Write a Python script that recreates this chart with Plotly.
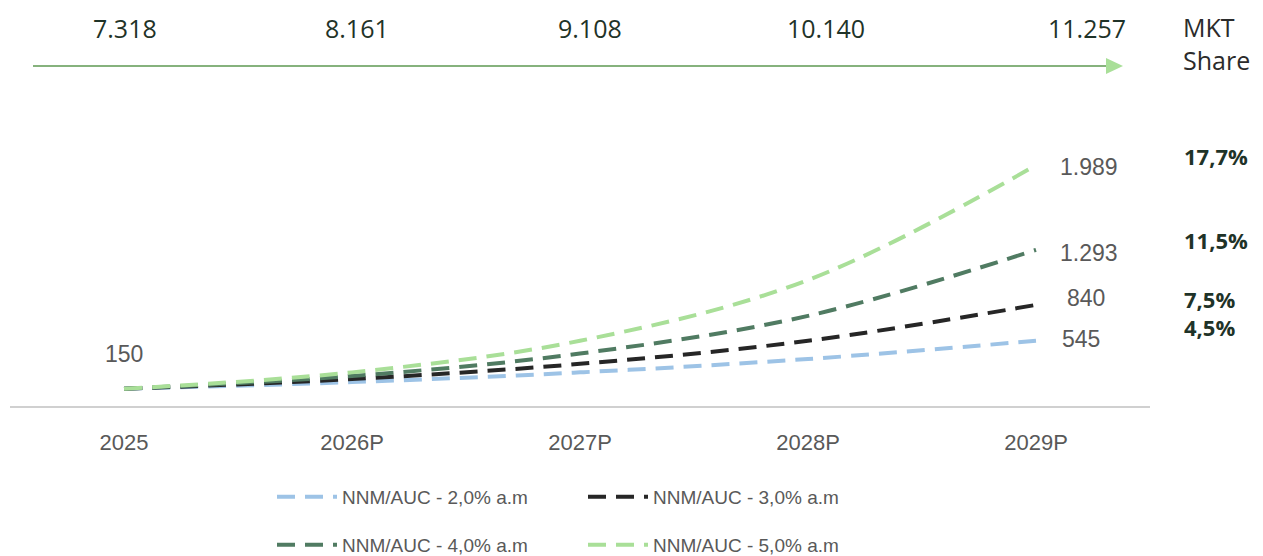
import plotly.graph_objects as go

# Categories and series
years = ["2025", "2026P", "2027P", "2028P", "2029P"]
nnm_2 = [150, 205, 285, 395, 545]
nnm_3 = [150, 230, 355, 545, 840]
nnm_4 = [150, 255, 440, 750, 1293]
nnm_5 = [150, 285, 545, 1045, 1989]

series_names = ["NNM/AUC - 2,0% a.m", "NNM/AUC - 3,0% a.m",
                "NNM/AUC - 4,0% a.m", "NNM/AUC - 5,0% a.m"]
series_colors = ["#9dc3e6", "#262626", "#507b62", "#a9df98"]
end_labels = ["545", "840", "1.293", "1.989"]
start_label = "150"
mkt_share = ["4,5%", "7,5%", "11,5%", "17,7%"]

market_totals = ["7.318", "8.161", "9.108", "10.140", "11.257"]

GRAY = "#595959"
DARK = "#1f3328"
LABEL_FONT = "Liberation Sans, sans-serif"

# plot area geometry (px) used for paper-coordinate placement
W, H = 1263, 556
ML, MR, MT, MB = 10, 113, 110, 149
PW, PH = W - ML - MR, H - MT - MB


def px_x(px):
    return (px - ML) / PW


def px_y(py):
    return (H - MB - py) / PH


fig = go.Figure()
all_series = [nnm_2, nnm_3, nnm_4, nnm_5]
for i, (vals, name, col) in enumerate(zip(all_series, series_names, series_colors)):
    fig.add_trace(go.Scatter(
        x=years, y=vals, name=name, mode="lines",
        line=dict(color=col, width=4, dash="18px,10px", shape="spline", smoothing=1),
        legend="legend" if i < 2 else "legend2",
        hoverinfo="x+y",
    ))

annotations = []
# end-of-line values (x given as category index so numeric-looking labels stay categorical)
last_idx = len(years) - 1
label_xshift = [45, 50, 53, 53]
label_yshift = [2, 7, -3, -2]
for vals, lab, xs, ys in zip(all_series, end_labels, label_xshift, label_yshift):
    annotations.append(dict(x=last_idx, y=vals[-1], xref="x", yref="y", text=lab,
                            showarrow=False, xshift=xs, yshift=ys,
                            font=dict(family=LABEL_FONT, size=23, color=GRAY)))
# starting value
annotations.append(dict(x=0, y=nnm_2[0], xref="x", yref="y", text=start_label,
                        showarrow=False, yshift=35,
                        font=dict(family=LABEL_FONT, size=23, color=GRAY)))

# market share column
share_y = [327, 299, 240, 156]
for txt, py in zip(mkt_share, share_y):
    annotations.append(dict(x=px_x(1182), y=px_y(py), xref="paper", yref="paper",
                            text="<b>" + txt + "</b>", showarrow=False,
                            xanchor="left", yanchor="middle",
                            font=dict(family="Open Sans, sans-serif", size=22, color=DARK)))

# total market row above the arrow
total_px = [125, 357, 590, 826, 1087]
for txt, px in zip(market_totals, total_px):
    annotations.append(dict(x=px_x(px), y=px_y(28), xref="paper", yref="paper",
                            text=txt, showarrow=False, xanchor="center", yanchor="middle",
                            font=dict(family="Open Sans, sans-serif", size=25, color=DARK)))
annotations.append(dict(x=px_x(1181), y=px_y(44), xref="paper", yref="paper",
                        text="MKT<br>Share", showarrow=False, align="left",
                        xanchor="left", yanchor="middle",
                        font=dict(family="Open Sans, sans-serif", size=25, color="#2b2b2b")))

shapes = [
    # growth arrow
    dict(type="line", xref="paper", yref="paper",
         x0=px_x(33), x1=px_x(1108), y0=px_y(66), y1=px_y(66),
         line=dict(color="#86b27d", width=2)),
    dict(type="path", xref="paper", yref="paper",
         path=f"M {px_x(1106)} {px_y(58)} L {px_x(1123)} {px_y(66)} L {px_x(1106)} {px_y(74)} Z",
         fillcolor="#a9df98", line=dict(width=0)),
    # category axis baseline
    dict(type="line", xref="paper", yref="paper", x0=0, x1=1, y0=0, y1=0,
         line=dict(color="#d0d0d0", width=2)),
]

legend_common = dict(orientation="h", xanchor="left", yanchor="middle",
                     entrywidth=236, entrywidthmode="pixels", itemwidth=60,
                     font=dict(family=LABEL_FONT, size=19, color=GRAY),
                     bgcolor="rgba(0,0,0,0)")

fig.update_layout(
    width=W, height=H,
    margin=dict(l=ML, r=MR, t=MT, b=MB, autoexpand=False),
    paper_bgcolor="white", plot_bgcolor="white",
    xaxis=dict(type="category", range=[-0.5, 4.5], showgrid=False, zeroline=False,
               showline=False, ticks="", tickfont=dict(family=LABEL_FONT, size=22, color=GRAY),
               ticklabelstandoff=20),
    yaxis=dict(range=[0, 2444], visible=False, showgrid=False, zeroline=False),
    legend=dict(x=px_x(272), y=px_y(497), **legend_common),
    legend2=dict(x=px_x(272), y=px_y(545), **legend_common),
    annotations=annotations,
    shapes=shapes,
    showlegend=True,
)

fig.write_html("out.html")
